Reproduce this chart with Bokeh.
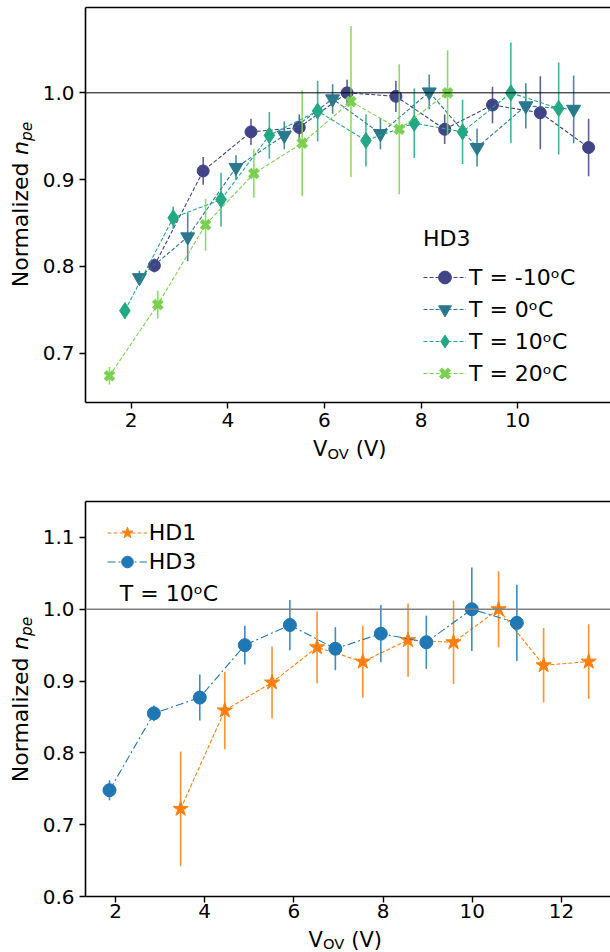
import numpy as np
from bokeh.plotting import figure
from bokeh.models import (Range1d, FixedTicker, LinearAxis, Span, Label, Legend,
                          LegendItem, ColumnDataSource, PrintfTickFormatter)
from bokeh.layouts import column, row
from bokeh.embed import file_html
from bokeh.resources import INLINE

FONT = "DejaVu Sans"

# ---------------- data: top panel (HD3 at several temperatures) ----------------
m10_v = [2.48, 3.49, 4.48, 5.48, 6.47, 7.48, 8.49, 9.48, 10.47, 11.47]
m10_n = [0.801, 0.910, 0.955, 0.960, 1.000, 0.996, 0.958, 0.986, 0.977, 0.937]
m10_e = [0.008, 0.016, 0.015, 0.015, 0.015, 0.018, 0.017, 0.021, 0.042, 0.033]

t0_v = [2.17, 3.17, 4.17, 5.17, 6.17, 7.16, 8.17, 9.16, 10.17, 11.16]
t0_n = [0.787, 0.834, 0.914, 0.951, 0.993, 0.953, 1.001, 0.937, 0.985, 0.981]
t0_e = [0.008, 0.028, 0.014, 0.016, 0.017, 0.018, 0.020, 0.022, 0.026, 0.039]

t10_v = [1.87, 2.87, 3.86, 4.86, 5.86, 6.86, 7.86, 8.86, 9.86, 10.85]
t10_n = [0.749, 0.856, 0.877, 0.951, 0.979, 0.945, 0.965, 0.955, 1.000, 0.982]
t10_e = [0.009, 0.013, 0.031, 0.027, 0.035, 0.030, 0.040, 0.037, 0.058, 0.053]

t20_v = [1.55, 2.55, 3.54, 4.54, 5.54, 6.55, 7.55, 8.55]
t20_n = [0.674, 0.756, 0.848, 0.907, 0.942, 0.990, 0.958, 1.000]
t20_e = [0.010, 0.016, 0.030, 0.028, 0.061, 0.087, 0.075, 0.049]

top_labels = ["T = -10\u1d52C", "T = 0\u1d52C", "T = 10\u1d52C", "T = 20\u1d52C"]

# ---------------- data: bottom panel (T = 10 C) ----------------
hd3_v = [1.865, 2.86, 3.89, 4.90, 5.91, 6.93, 7.95, 8.97, 9.99, 11.0]
hd3_n = [0.748, 0.855, 0.877, 0.950, 0.978, 0.945, 0.966, 0.954, 1.000, 0.981]
hd3_e = [0.014, 0.011, 0.032, 0.027, 0.035, 0.030, 0.040, 0.037, 0.058, 0.053]

hd1_v = [3.46, 4.45, 5.51, 6.52, 7.545, 8.56, 9.58, 10.59, 11.6, 12.61]
hd1_n = [0.722, 0.859, 0.898, 0.947, 0.927, 0.957, 0.954, 1.000, 0.922, 0.927]
hd1_e = [0.080, 0.054, 0.050, 0.050, 0.050, 0.051, 0.058, 0.053, 0.052, 0.052]

top_xticks = [2, 4, 6, 8, 10]
top_yticks = [0.7, 0.8, 0.9, 1.0]
bot_xticks = [2, 4, 6, 8, 10, 12]
bot_yticks = [0.6, 0.7, 0.8, 0.9, 1.0, 1.1]

VIRIDIS = ["#414487", "#2a788e", "#22a884", "#7ad151"]
ORANGE, BLUE = "#ff7f0e", "#1f77b4"

LEFT_W = 38      # width of the column holding the rotated y label
MAIN_W = 572     # width of the plot column
FRAME_L = 47     # border left of every plot frame inside the plot column


def sh(fs):
    # offset between the requested and the drawn alphabetic baseline
    return 0.352 * fs


def make_fig(height, xr, yr, xt, yt, mb_top, mb_bottom, x_standoff):
    p = figure(width=MAIN_W, height=height, output_backend="svg", toolbar_location=None,
               x_range=Range1d(*xr), y_range=Range1d(*yr),
               min_border_left=FRAME_L, min_border_right=0,
               min_border_top=mb_top, min_border_bottom=mb_bottom)
    p.outline_line_color = None
    p.xgrid.visible = False
    p.ygrid.visible = False
    p.background_fill_color = "white"
    p.border_fill_color = "white"
    for ax, ticks in ((p.xaxis[0], xt), (p.yaxis[0], yt)):
        ax.ticker = FixedTicker(ticks=ticks)
        ax.major_label_text_font = FONT
        ax.major_label_text_font_size = "20px"
        ax.major_label_text_color = "black"
        ax.axis_line_color = "black"
        ax.axis_line_width = 1.6
        ax.major_tick_line_color = "black"
        ax.major_tick_line_width = 1.4
        ax.major_tick_out = 6
        ax.major_tick_in = 0
        ax.minor_tick_out = 0
        ax.minor_tick_in = 0
    p.yaxis[0].formatter = PrintfTickFormatter(format="%.1f")
    p.xaxis[0].major_label_standoff = x_standoff
    p.yaxis[0].major_label_standoff = 5
    top_ax = LinearAxis(ticker=FixedTicker(ticks=[]), major_label_text_font_size="0px",
                        major_tick_out=0, major_tick_in=0, minor_tick_out=0, minor_tick_in=0,
                        major_label_standoff=0, axis_line_color="black", axis_line_width=1.6)
    p.add_layout(top_ax, "above")
    return p


def blank_fig(w, h, left=0):
    f = figure(width=w, height=h, output_backend="svg", toolbar_location=None,
               x_range=Range1d(0, 1), y_range=Range1d(0, 1), min_border=0,
               min_border_left=left, min_border_right=0, min_border_top=0, min_border_bottom=0,
               x_axis_location=None, y_axis_location=None)
    f.outline_line_color = None
    f.grid.visible = False
    f.background_fill_color = "white"
    f.border_fill_color = "white"
    return f


def series(p, v, n, e, color, marker, size, dash, lw_marker=1.0):
    v = np.asarray(v); n = np.asarray(n); e = np.asarray(e)
    src = ColumnDataSource(dict(x=v, y=n, lo=n - e, hi=n + e))
    p.segment(x0="x", y0="lo", x1="x", y1="hi", source=src, line_color=color,
              line_width=1.6, line_alpha=0.85)
    lr = p.line("x", "y", source=src, line_color=color, line_width=1.1, line_dash=dash)
    sr = p.scatter("x", "y", source=src, marker=marker, size=size, fill_color=color,
                   line_color=color, line_width=lw_marker)
    return lr, sr


def add_label(p, text, x, y, fs=22.0, style="normal", angle=0):
    p.add_layout(Label(x=x, y=y, x_units="screen", y_units="screen", text=text,
                       text_font=FONT, text_font_size=f"{fs}px", text_font_style=style,
                       text_color="black", angle=angle, angle_units="deg",
                       text_align="left", text_baseline="alphabetic"))


def ylabel(f, start):
    # "Normalized n_pe" written bottom-to-top; baseline at x = 28, subscript at x = 32
    fs, fs2 = 22.0, 15.4
    add_label(f, "Normalized", 28 - sh(fs), start, fs, angle=90)
    add_label(f, "n", 28 - sh(fs), start + 132.2, fs, style="italic", angle=90)
    add_label(f, "pe", 32 - sh(fs2), start + 146.1, fs2, style="italic", angle=90)


def xlabel(f, x, base):
    # "V_OV (V)" with its baseline at height `base` above the bottom of f
    fs, fs2 = 21.0, 14.7
    add_label(f, "V", x, base + sh(fs), fs)
    add_label(f, "OV", x + 14.4, base - 2 + sh(fs2), fs2)
    add_label(f, "(V)", x + 42.7, base + sh(fs), fs)


# ---------------- top figure ----------------
p1 = make_fig(436, (1.054, 11.923), (0.6432, 1.0983), top_xticks, top_yticks, 7, 34, 4)
p1.add_layout(Span(location=1.0, dimension="width", line_color="black", line_width=1.0))

specs = [
    (m10_v, m10_n, m10_e, "circle", 12, 1.0),
    (t0_v, t0_n, t0_e, "inverted_triangle", 14, 1.0),
    (t10_v, t10_n, t10_e, "diamond", 16, 1.0),
    (t20_v, t20_n, t20_e, "x", 12, 4.5),
]
items = []
for (v, n, e, mk, sz, lwm), c, lab in zip(specs, VIRIDIS, top_labels):
    lr, sr = series(p1, v, n, e, c, mk, sz, "4 2", lwm)
    items.append(LegendItem(label=lab, renderers=[lr, sr]))

leg1 = Legend(items=items, location=(338, 12.7), title="HD3",
              title_text_font=FONT, title_text_font_size="22px", title_text_font_style="normal",
              title_text_color="black",
              title_standoff=10, label_text_font=FONT, label_text_font_size="22px",
              label_text_color="black",
              glyph_width=43, glyph_height=32, label_height=32, spacing=0, padding=0, margin=0,
              label_standoff=3, background_fill_alpha=0, border_line_color=None)
p1.add_layout(leg1)

yl1 = blank_fig(LEFT_W, 466)
ylabel(yl1, 179.3)
xl1 = blank_fig(MAIN_W, 30, FRAME_L)
xlabel(xl1, 227.5, 10.2)

# ---------------- bottom figure ----------------
p2 = make_fig(461, (1.327, 13.10), (0.6, 1.15), bot_xticks, bot_yticks, 35, 31, 1)
p2.add_layout(Span(location=1.0, dimension="width", line_color="#808080", line_width=1.5))

lr1, sr1 = series(p2, hd1_v, hd1_n, hd1_e, ORANGE, "star", 16, "4 2")
lr3, sr3 = series(p2, hd3_v, hd3_n, hd3_e, BLUE, "circle", 13, "8 3 2 3")

leg2 = Legend(items=[LegendItem(label="HD1", renderers=[lr1, sr1]),
                     LegendItem(label="HD3", renderers=[lr3, sr3])],
              location=(21.7, 320.5), label_text_font=FONT, label_text_font_size="22px",
              label_text_color="black",
              glyph_width=40, glyph_height=29, label_height=29, spacing=0, padding=0, margin=0,
              label_standoff=2, background_fill_alpha=0, border_line_color=None)
p2.add_layout(leg2)
add_label(p2, "T = 10\u1d52C", 34.3, 295.3 + sh(22.0))

yl2 = blank_fig(LEFT_W, 486)
ylabel(yl2, 170.3)
xl2 = blank_fig(MAIN_W, 25, FRAME_L)
xlabel(xl2, 223.0, 5.5)

layout = column(row(yl1, column(p1, xl1)), row(yl2, column(p2, xl2)))
open("out.html", "w").write(file_html(layout, INLINE))
